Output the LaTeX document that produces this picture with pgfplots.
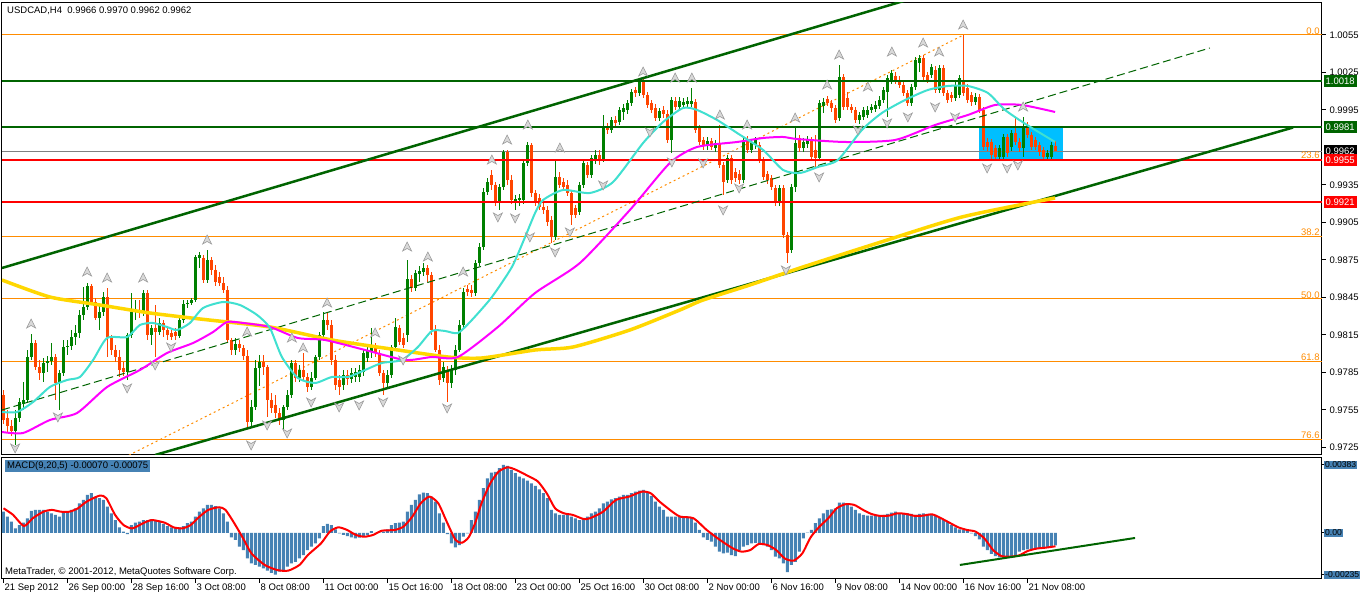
\documentclass[border=0pt]{standalone}
\usepackage{fontspec}
\setmainfont{Liberation Sans}
\usepackage{pgfplots}
\usepackage{pgfplotstable}
\pgfplotsset{compat=1.18}
\definecolor{bull}{RGB}{0,128,0}
\definecolor{bear}{RGB}{255,69,0}
\definecolor{chan}{RGB}{0,100,0}
\definecolor{fibo}{RGB}{255,140,0}
\definecolor{macdblue}{RGB}{70,130,180}
\definecolor{boxblue}{RGB}{0,191,255}
\definecolor{maC}{RGB}{64,224,208}
\definecolor{maM}{RGB}{255,0,255}
\definecolor{maY}{RGB}{255,215,0}
\definecolor{bidgray}{RGB}{128,128,128}
\newcommand{\fz}{\fontsize{9.5}{11}\selectfont}
\pgfdeclareplotmark{fup}{%
  \pgfpathmoveto{\pgfqpoint{0pt}{5pt}}%
  \pgfpathlineto{\pgfqpoint{4.5pt}{-4pt}}%
  \pgfpathlineto{\pgfqpoint{0pt}{-1.5pt}}%
  \pgfpathlineto{\pgfqpoint{-4.5pt}{-4pt}}%
  \pgfpathclose\pgfusepathqfillstroke}
\pgfdeclareplotmark{fdown}{%
  \pgfpathmoveto{\pgfqpoint{0pt}{-5pt}}%
  \pgfpathlineto{\pgfqpoint{4.5pt}{4pt}}%
  \pgfpathlineto{\pgfqpoint{0pt}{1.5pt}}%
  \pgfpathlineto{\pgfqpoint{-4.5pt}{4pt}}%
  \pgfpathclose\pgfusepathqfillstroke}

\pgfplotstableread{
i o h l c
0 0.97670 0.97710 0.97438 0.97470
1 0.97486 0.97550 0.97374 0.97422
2 0.97422 0.97470 0.97342 0.97382
3 0.97382 0.97550 0.97270 0.97486
4 0.97486 0.97646 0.97454 0.97614
5 0.97598 0.97774 0.97550 0.97630
6 0.97630 0.98030 0.97606 0.97974
7 0.97974 0.98158 0.97950 0.98086
8 0.98086 0.98110 0.97870 0.97894
9 0.97894 0.97950 0.97790 0.97846
10 0.97846 0.97966 0.97774 0.97926
11 0.97926 0.97982 0.97854 0.97942
12 0.97942 0.98086 0.97910 0.97974
13 0.97974 0.97998 0.97630 0.97766
14 0.97766 0.97870 0.97550 0.97846
15 0.97846 0.98110 0.97822 0.98054
16 0.98054 0.98110 0.97990 0.98062
17 0.98062 0.98190 0.98030 0.98134
18 0.98134 0.98230 0.98070 0.98166
19 0.98166 0.98350 0.98126 0.98310
20 0.98310 0.98534 0.98270 0.98374
21 0.98374 0.98566 0.98350 0.98542
22 0.98542 0.98558 0.98390 0.98414
23 0.98414 0.98446 0.98270 0.98286
24 0.98286 0.98390 0.98190 0.98334
25 0.98334 0.98494 0.98302 0.98454
26 0.98454 0.98526 0.97974 0.98134
27 0.98134 0.98150 0.97990 0.98030
28 0.98030 0.98070 0.97934 0.97974
29 0.97974 0.98030 0.97814 0.97870
30 0.97886 0.97934 0.97822 0.97854
31 0.97854 0.98166 0.97790 0.98150
32 0.98150 0.98486 0.98126 0.98334
33 0.98334 0.98430 0.98270 0.98350
34 0.98350 0.98430 0.98286 0.98326
35 0.98326 0.98510 0.98302 0.98486
36 0.98486 0.98510 0.98110 0.98150
37 0.98150 0.98230 0.98070 0.98206
38 0.98206 0.98390 0.97974 0.98174
39 0.98174 0.98286 0.98150 0.98246
40 0.98246 0.98270 0.98134 0.98190
41 0.98190 0.98214 0.98110 0.98150
42 0.98166 0.98190 0.98110 0.98134
43 0.98174 0.98206 0.98110 0.98142
44 0.98142 0.98286 0.98126 0.98270
45 0.98270 0.98430 0.98246 0.98398
46 0.98398 0.98430 0.98366 0.98406
47 0.98406 0.98446 0.98390 0.98430
48 0.98430 0.98790 0.98414 0.98774
49 0.98766 0.98814 0.98686 0.98790
50 0.98766 0.98790 0.98566 0.98590
51 0.98590 0.98830 0.98566 0.98750
52 0.98750 0.98774 0.98630 0.98670
53 0.98670 0.98710 0.98542 0.98574
54 0.98614 0.98654 0.98542 0.98566
55 0.98566 0.98614 0.98486 0.98510
56 0.98510 0.98542 0.98086 0.98110
57 0.98110 0.98126 0.97990 0.98030
58 0.98030 0.98126 0.97990 0.98078
59 0.98078 0.98110 0.98014 0.98046
60 0.98046 0.98070 0.97950 0.97982
61 0.97982 0.98030 0.97406 0.97454
62 0.97454 0.97630 0.97406 0.97574
63 0.97574 0.97950 0.97550 0.97886
64 0.97886 0.97990 0.97742 0.97934
65 0.97934 0.97990 0.97830 0.97894
66 0.97894 0.97910 0.97494 0.97630
67 0.97630 0.97686 0.97526 0.97566
68 0.97590 0.97670 0.97486 0.97526
69 0.97526 0.97566 0.97430 0.97470
70 0.97470 0.97590 0.97390 0.97574
71 0.97574 0.97710 0.97550 0.97670
72 0.97670 0.97950 0.97646 0.97926
73 0.97926 0.97950 0.97774 0.97806
74 0.97806 0.97910 0.97774 0.97870
75 0.97870 0.98006 0.97790 0.97814
76 0.97814 0.97846 0.97694 0.97734
77 0.97734 0.97854 0.97710 0.97806
78 0.97806 0.97990 0.97790 0.97974
79 0.97974 0.98174 0.97950 0.98150
80 0.98150 0.98334 0.98126 0.98270
81 0.98270 0.98334 0.98190 0.98230
82 0.98230 0.98270 0.97910 0.97950
83 0.97950 0.97990 0.97710 0.97750
84 0.97790 0.97830 0.97670 0.97734
85 0.97750 0.97870 0.97710 0.97830
86 0.97830 0.97870 0.97750 0.97798
87 0.97798 0.97886 0.97766 0.97846
88 0.97814 0.97886 0.97774 0.97854
89 0.97814 0.97910 0.97774 0.97870
90 0.97854 0.98030 0.97822 0.98006
91 0.97966 0.98070 0.97934 0.98030
92 0.98014 0.98206 0.97966 0.98054
93 0.98054 0.98086 0.97974 0.98006
94 0.98006 0.98030 0.97822 0.97846
95 0.97846 0.97870 0.97670 0.97766
96 0.97766 0.97870 0.97734 0.97830
97 0.97830 0.98070 0.97806 0.98054
98 0.98054 0.98286 0.98030 0.98214
99 0.98206 0.98230 0.98070 0.98094
100 0.98126 0.98166 0.98046 0.98070
101 0.98150 0.98750 0.98094 0.98598
102 0.98598 0.98630 0.98494 0.98526
103 0.98526 0.98670 0.98502 0.98646
104 0.98638 0.98702 0.98574 0.98662
105 0.98654 0.98726 0.98622 0.98686
106 0.98686 0.98710 0.98574 0.98630
107 0.98630 0.98654 0.98150 0.98190
108 0.98190 0.98230 0.98014 0.98030
109 0.98030 0.98070 0.97750 0.97790
110 0.97806 0.97934 0.97774 0.97894
111 0.97870 0.97902 0.97614 0.97766
112 0.97766 0.97910 0.97726 0.97870
113 0.97870 0.98070 0.97830 0.98030
114 0.98030 0.98270 0.98014 0.98230
115 0.98230 0.98526 0.98206 0.98494
116 0.98518 0.98550 0.98462 0.98494
117 0.98510 0.98550 0.98454 0.98486
118 0.98486 0.98750 0.98462 0.98726
119 0.98726 0.98886 0.98702 0.98854
120 0.98854 0.99326 0.98830 0.99294
121 0.99294 0.99406 0.99270 0.99374
122 0.99430 0.99470 0.99310 0.99350
123 0.99350 0.99374 0.99182 0.99214
124 0.99214 0.99358 0.99150 0.99334
125 0.99334 0.99630 0.99310 0.99614
126 0.99614 0.99630 0.99350 0.99390
127 0.99390 0.99430 0.99198 0.99230
128 0.99222 0.99270 0.99150 0.99238
129 0.99230 0.99278 0.99182 0.99246
130 0.99230 0.99550 0.99198 0.99526
131 0.99526 0.99694 0.99502 0.99670
132 0.99670 0.99686 0.99254 0.99286
133 0.99286 0.99310 0.99182 0.99206
134 0.99246 0.99278 0.99150 0.99174
135 0.99174 0.99206 0.99118 0.99150
136 0.99150 0.99182 0.99022 0.99054
137 0.99070 0.99102 0.98886 0.98934
138 0.98934 0.99550 0.98910 0.99414
139 0.99414 0.99454 0.99326 0.99350
140 0.99374 0.99406 0.99310 0.99334
141 0.99350 0.99390 0.99262 0.99286
142 0.99286 0.99310 0.99030 0.99110
143 0.99166 0.99190 0.99086 0.99110
144 0.99134 0.99374 0.99110 0.99350
145 0.99350 0.99550 0.99326 0.99526
146 0.99510 0.99534 0.99406 0.99430
147 0.99430 0.99590 0.99406 0.99566
148 0.99550 0.99630 0.99518 0.99590
149 0.99590 0.99630 0.99510 0.99550
150 0.99550 0.99910 0.99534 0.99806
151 0.99814 0.99846 0.99758 0.99790
152 0.99790 0.99894 0.99766 0.99870
153 0.99870 0.99902 0.99814 0.99846
154 0.99854 0.99974 0.99830 0.99950
155 0.99934 0.99998 0.99870 0.99966
156 0.99950 1.00030 0.99918 1.00006
157 1.00006 1.00118 0.99982 1.00094
158 1.00110 1.00134 1.00054 1.00086
159 1.00086 1.00198 1.00062 1.00174
160 1.00174 1.00206 1.00046 1.00070
161 1.00070 1.00094 0.99966 0.99990
162 1.00006 1.00030 0.99926 0.99950
163 0.99966 0.99998 0.99862 0.99886
164 0.99886 0.99966 0.99862 0.99942
165 0.99950 0.99982 0.99886 0.99918
166 0.99918 0.99950 0.99686 0.99710
167 0.99710 1.00054 0.99606 1.00030
168 1.00022 1.00054 0.99950 0.99974
169 0.99974 1.00054 0.99942 1.00022
170 0.99990 1.00046 0.99966 1.00014
171 0.99998 1.00054 0.99974 1.00022
172 0.99998 1.00126 0.99974 1.00022
173 1.00014 1.00038 0.99766 0.99790
174 0.99806 0.99830 0.99670 0.99694
175 0.99710 0.99734 0.99630 0.99662
176 0.99662 0.99734 0.99630 0.99702
177 0.99702 0.99726 0.99630 0.99654
178 0.99646 0.99710 0.99614 0.99686
179 0.99686 0.99830 0.99486 0.99510
180 0.99510 0.99534 0.99270 0.99374
181 0.99390 0.99590 0.99366 0.99566
182 0.99566 0.99590 0.99358 0.99390
183 0.99454 0.99486 0.99374 0.99406
184 0.99438 0.99470 0.99358 0.99390
185 0.99390 0.99734 0.99366 0.99710
186 0.99718 0.99742 0.99606 0.99630
187 0.99630 0.99710 0.99606 0.99686
188 0.99670 0.99734 0.99638 0.99710
189 0.99670 0.99694 0.99526 0.99550
190 0.99550 0.99574 0.99390 0.99414
191 0.99438 0.99462 0.99358 0.99390
192 0.99406 0.99430 0.99310 0.99334
193 0.99326 0.99350 0.99182 0.99206
194 0.99206 0.99350 0.99182 0.99326
195 0.99326 0.99350 0.98926 0.98950
196 0.98950 0.98974 0.98726 0.98806
197 0.98830 0.99358 0.98806 0.99334
198 0.99334 0.99814 0.99294 0.99686
199 0.99726 0.99750 0.99614 0.99646
200 0.99646 0.99726 0.99614 0.99694
201 0.99678 0.99742 0.99646 0.99710
202 0.99710 0.99734 0.99550 0.99574
203 0.99630 0.99750 0.99494 0.99566
204 0.99566 1.00030 0.99542 1.00006
205 0.99982 1.00046 0.99926 1.00014
206 1.00038 1.00062 0.99982 1.00006
207 1.00006 1.00030 0.99934 0.99966
208 0.99966 0.99990 0.99846 0.99870
209 0.99886 1.00310 0.99862 1.00214
210 1.00214 1.00238 0.99950 0.99974
211 1.00046 1.00094 0.99950 0.99974
212 0.99974 0.99998 0.99926 0.99950
213 0.99950 0.99974 0.99846 0.99870
214 0.99870 0.99934 0.99838 0.99910
215 0.99894 0.99974 0.99870 0.99950
216 0.99910 0.99982 0.99886 0.99950
217 0.99950 0.99998 0.99926 0.99974
218 0.99958 1.00022 0.99934 0.99990
219 0.99982 1.00062 0.99958 1.00030
220 1.00030 1.00134 1.00006 1.00110
221 1.00094 1.00230 0.99894 1.00206
222 1.00190 1.00270 1.00158 1.00246
223 1.00222 1.00254 1.00158 1.00182
224 1.00190 1.00222 1.00126 1.00150
225 1.00150 1.00174 1.00062 1.00086
226 1.00086 1.00110 0.99982 1.00006
227 1.00006 1.00158 0.99982 1.00134
228 1.00134 1.00374 1.00110 1.00350
229 1.00326 1.00390 1.00254 1.00366
230 1.00366 1.00390 1.00190 1.00214
231 1.00230 1.00254 1.00166 1.00190
232 1.00230 1.00318 1.00206 1.00294
233 1.00270 1.00302 1.00086 1.00110
234 1.00110 1.00310 1.00086 1.00286
235 1.00286 1.00310 1.00062 1.00086
236 1.00086 1.00110 1.00006 1.00030
237 1.00070 1.00094 1.00014 1.00046
238 1.00046 1.00174 1.00022 1.00150
239 1.00070 1.00230 1.00046 1.00206
240 1.00190 1.00550 1.00062 1.00086
241 1.00126 1.00158 1.00006 1.00030
242 1.00070 1.00094 0.99982 1.00014
243 1.00014 1.00086 0.99990 1.00054
244 1.00054 1.00078 0.99926 0.99950
245 0.99950 0.99974 0.99630 0.99654
246 0.99694 0.99726 0.99622 0.99654
247 0.99694 0.99718 0.99558 0.99590
248 0.99646 0.99670 0.99550 0.99574
249 0.99574 0.99670 0.99550 0.99646
250 0.99574 0.99758 0.99542 0.99734
251 0.99734 0.99758 0.99574 0.99606
252 0.99654 0.99790 0.99622 0.99766
253 0.99766 0.99886 0.99670 0.99694
254 0.99694 0.99726 0.99614 0.99646
255 0.99646 0.99894 0.99574 0.99814
256 0.99830 0.99854 0.99726 0.99750
257 0.99750 0.99774 0.99630 0.99654
258 0.99710 0.99734 0.99630 0.99654
259 0.99670 0.99694 0.99582 0.99614
260 0.99630 0.99654 0.99550 0.99574
261 0.99574 0.99630 0.99550 0.99606
262 0.99574 0.99694 0.99550 0.99670
263 0.99660 0.99700 0.99620 0.99620
}\candles

\pgfplotstableread{
i v
0 0.00120
1 0.00092
2 0.00064
3 0.00026
4 0.00045
5 0.00058
6 0.00083
7 0.00124
8 0.00130
9 0.00130
10 0.00130
11 0.00120
12 0.00111
13 0.00102
14 0.00092
15 0.00120
16 0.00120
17 0.00130
18 0.00139
19 0.00167
20 0.00186
21 0.00214
22 0.00224
23 0.00205
24 0.00196
25 0.00186
26 0.00149
27 0.00111
28 0.00073
29 0.00032
30 0.00008
31 -0.00006
32 0.00045
33 0.00058
34 0.00064
35 0.00073
36 0.00073
37 0.00077
38 0.00070
39 0.00064
40 0.00051
41 0.00039
42 0.00032
43 0.00032
44 0.00032
45 0.00039
46 0.00055
47 0.00064
48 0.00092
49 0.00120
50 0.00139
51 0.00158
52 0.00158
53 0.00152
54 0.00139
55 0.00111
56 0.00064
57 -0.00024
58 -0.00039
59 -0.00077
60 -0.00096
61 -0.00143
62 -0.00171
63 -0.00180
64 -0.00190
65 -0.00199
66 -0.00212
67 -0.00224
68 -0.00235
69 -0.00218
70 -0.00209
71 -0.00190
72 -0.00171
73 -0.00162
74 -0.00143
75 -0.00124
76 -0.00096
77 -0.00077
78 -0.00058
79 -0.00030
80 0.00039
81 0.00051
82 0.00045
83 0.00021
84 -0.00002
85 -0.00011
86 -0.00017
87 -0.00024
88 -0.00030
89 -0.00026
90 -0.00021
91 -0.00011
92 0.00011
93 -0.00002
94 0.00002
95 0.00008
96 0.00021
97 0.00045
98 0.00055
99 0.00058
100 0.00064
101 0.00120
102 0.00158
103 0.00186
104 0.00218
105 0.00227
106 0.00224
107 0.00205
108 0.00177
109 0.00111
110 0.00058
111 -0.00006
112 -0.00058
113 -0.00081
114 -0.00068
115 -0.00021
116 -0.00002
117 0.00073
118 0.00120
119 0.00186
120 0.00252
121 0.00308
122 0.00340
123 0.00344
124 0.00365
125 0.00383
126 0.00378
127 0.00355
128 0.00337
129 0.00318
130 0.00308
131 0.00295
132 0.00280
133 0.00265
134 0.00246
135 0.00224
136 0.00196
137 0.00130
138 0.00111
139 0.00102
140 0.00102
141 0.00102
142 0.00092
143 0.00083
144 0.00073
145 0.00083
146 0.00092
147 0.00111
148 0.00120
149 0.00139
150 0.00167
151 0.00177
152 0.00190
153 0.00196
154 0.00205
155 0.00214
156 0.00214
157 0.00224
158 0.00233
159 0.00239
160 0.00243
161 0.00224
162 0.00209
163 0.00177
164 0.00149
165 0.00130
166 0.00092
167 0.00092
168 0.00092
169 0.00092
170 0.00092
171 0.00092
172 0.00088
173 0.00058
174 0.00017
175 -0.00024
176 -0.00039
177 -0.00049
178 -0.00077
179 -0.00105
180 -0.00115
181 -0.00111
182 -0.00124
183 -0.00130
184 -0.00096
185 -0.00077
186 -0.00068
187 -0.00058
188 -0.00055
189 -0.00055
190 -0.00068
191 -0.00077
192 -0.00096
193 -0.00133
194 -0.00143
195 -0.00171
196 -0.00220
197 -0.00180
198 -0.00162
199 -0.00105
200 -0.00030
201 0.00002
202 0.00017
203 0.00055
204 0.00083
205 0.00111
206 0.00130
207 0.00133
208 0.00139
209 0.00171
210 0.00171
211 0.00158
212 0.00149
213 0.00130
214 0.00111
215 0.00102
216 0.00098
217 0.00098
218 0.00096
219 0.00098
220 0.00102
221 0.00107
222 0.00115
223 0.00120
224 0.00111
225 0.00107
226 0.00111
227 0.00107
228 0.00102
229 0.00107
230 0.00111
231 0.00107
232 0.00102
233 0.00102
234 0.00088
235 0.00073
236 0.00064
237 0.00045
238 0.00032
239 0.00021
240 0.00017
241 0.00011
242 -0.00002
243 -0.00017
244 -0.00036
245 -0.00077
246 -0.00096
247 -0.00118
248 -0.00130
249 -0.00137
250 -0.00143
251 -0.00137
252 -0.00133
253 -0.00130
254 -0.00105
255 -0.00096
256 -0.00092
257 -0.00092
258 -0.00092
259 -0.00086
260 -0.00086
261 -0.00081
262 -0.00077
263 -0.00070
}\macd

\begin{document}
\begin{tikzpicture}
\fill[white] (0,0) rectangle (1360pt,596pt);
\path[use as bounding box] (0,0) rectangle (1360pt,596pt);

\begin{axis}[
  name=main, at={(2pt,141pt)}, anchor=south west,
  scale only axis, width=1320pt, height=452pt,
  xmin=-0.375, xmax=329.625, ymin=0.97190, ymax=1.00806,
  axis line style={line width=1pt},
  xtick=\empty,
  ytick={0.9725,0.9755,0.9785,0.9815,0.9845,0.9875,0.9905,0.9935,0.9995,1.0025,1.0055},
  ytick pos=right, yticklabel pos=right,
  tick align=outside, major tick length=4pt,
  tick style={black, line width=1pt},
  /pgf/number format/assume math mode=true,
  yticklabel style={font=\fz, /pgf/number format/fixed, /pgf/number format/fixed zerofill, /pgf/number format/precision=4},
  clip mode=individual,
]
% analysis rectangle
\addplot[fill=boxblue, draw=none] coordinates {(243.9,0.9955) (264.9,0.9955) (264.9,0.9981) (243.9,0.9981)} -- cycle;
% Fibonacci levels
\addplot[fibo, line width=1pt] coordinates {(-0.375,1.0055) (329.625,1.0055)};
\addplot[fibo, line width=1pt] coordinates {(-0.375,0.99553) (329.625,0.99553)};
\addplot[fibo, line width=1pt] coordinates {(-0.375,0.98936) (329.625,0.98936)};
\addplot[fibo, line width=1pt] coordinates {(-0.375,0.98438) (329.625,0.98438)};
\addplot[fibo, line width=1pt] coordinates {(-0.375,0.97940) (329.625,0.97940)};
\addplot[fibo, line width=1pt] coordinates {(-0.375,0.97314) (329.625,0.97314)};
\addplot[fibo, line width=1pt, dash pattern=on 2pt off 3pt] coordinates {(28,0.97134) (240,1.0055)};
% bid line
\addplot[bidgray, line width=1pt] coordinates {(-0.375,0.9962) (329.625,0.9962)};
% candles: wicks and bodies
\addplot[bull, line width=1pt, quiver={u=0, v=\thisrow{h}-\thisrow{l}}, restrict expr to domain={\thisrow{c}-\thisrow{o}}{0:1}] table[x=i, y=l] {\candles};
\addplot[bear, line width=1pt, quiver={u=0, v=\thisrow{h}-\thisrow{l}}, restrict expr to domain={\thisrow{c}-\thisrow{o}}{-1:-0.000001}] table[x=i, y=l] {\candles};
\addplot[bull, line width=3pt, quiver={u=0, v=\thisrow{c}-\thisrow{o}}, restrict expr to domain={\thisrow{c}-\thisrow{o}}{0:1}] table[x=i, y=o] {\candles};
\addplot[bear, line width=3pt, quiver={u=0, v=\thisrow{c}-\thisrow{o}}, restrict expr to domain={\thisrow{c}-\thisrow{o}}{-1:-0.000001}] table[x=i, y=o] {\candles};
% horizontal levels
\addplot[chan, line width=2pt] coordinates {(-0.375,1.0018) (329.625,1.0018)};
\addplot[chan, line width=2pt] coordinates {(-0.375,0.9981) (329.625,0.9981)};
\addplot[red, line width=2pt] coordinates {(-0.375,0.9955) (329.625,0.9955)};
\addplot[red, line width=2pt] coordinates {(-0.375,0.9921) (329.625,0.9921)};
% channel
\addplot[chan, line width=2.5pt] coordinates {(-0.375,0.98686) (230,1.00869)};
\addplot[chan, line width=2.5pt] coordinates {(37.9,0.9719) (322.4,0.9981)};
\addplot[chan, line width=1pt, dash pattern=on 8pt off 4pt] coordinates {(-0.375,0.9755) (301.6,1.00446)};
% moving averages
\addplot[maY, line width=3.5pt, smooth, tension=0.4] coordinates {
(-0.375,0.98590) (11.6,0.98454) (24.1,0.98390) (36.6,0.98326) (49.1,0.98278) (66.6,0.98214)
(82.1,0.98110) (98.6,0.98030) (111.1,0.97974) (119.6,0.97966) (132.9,0.98030) (142.4,0.98054)
(156.6,0.98190) (169.1,0.98350) (174.9,0.98430) (186.6,0.98550) (199.1,0.98686) (218.6,0.98886)
(239.6,0.99094) (262.9,0.99246)};
\addplot[maM, line width=2pt, smooth, tension=0.4] coordinates {
(-0.375,0.97374) (4.9,0.97366) (11.6,0.97470) (18.4,0.97526) (25.9,0.97734) (34.1,0.97870)
(40.9,0.98006) (47.4,0.98086) (52.4,0.98174) (55.9,0.98254) (59.9,0.98246) (66.6,0.98214)
(73.6,0.98126) (80.4,0.98110) (90.4,0.98030) (100.4,0.97950) (107.1,0.97974) (113.6,0.97974)
(123.6,0.98214) (132.9,0.98486) (144.1,0.98726) (156.6,0.99150) (166.6,0.99526) (173.4,0.99654)
(183.4,0.99694) (189.9,0.99726) (194.9,0.99734) (198.4,0.99718) (210.4,0.99694) (222.9,0.99710)
(232.9,0.99830) (241.1,0.99910) (247.9,0.99990) (254.6,0.99990) (262.9,0.99934)};
\addplot[maC, line width=2pt, smooth, tension=0.4] coordinates {
(-0.375,0.97534) (3.4,0.97534) (7.4,0.97614) (11.6,0.97734) (15.9,0.97790) (19.1,0.97814)
(22.4,0.97950) (25.9,0.98126) (30.9,0.98134) (34.1,0.98230) (37.4,0.98246) (40.9,0.98214)
(43.4,0.98190) (46.6,0.98246) (49.9,0.98366) (54.9,0.98414) (59.1,0.98390) (63.4,0.98310)
(66.6,0.98206) (69.6,0.97974) (73.6,0.97806) (77.9,0.97766) (82.1,0.97814) (86.1,0.97814)
(90.4,0.97870) (94.6,0.97926) (99.6,0.97950) (103.6,0.98054) (107.1,0.98182) (110.4,0.98182)
(113.6,0.98166) (117.1,0.98270) (122.1,0.98454) (127.1,0.98694) (130.4,0.98934) (132.9,0.99126)
(134.9,0.99230) (139.9,0.99310) (146.6,0.99286) (152.4,0.99374) (159.9,0.99686) (164.9,0.99854)
(169.9,0.99966) (173.4,0.99950) (178.4,0.99870) (183.4,0.99766) (189.9,0.99630) (194.9,0.99470)
(199.1,0.99446) (203.6,0.99494) (208.6,0.99550) (214.6,0.99790) (219.6,0.99926) (225.4,1.00030)
(231.1,1.00110) (236.1,1.00142) (241.1,1.00142) (246.1,1.00086) (250.4,0.99950) (255.9,0.99830)
(262.9,0.99694)};
% fractals
\addplot[only marks, mark=fup, mark options={fill=gray!30, draw=gray!80, line width=0.6pt}] coordinates {
(6.9,0.98238) (20.9,0.98654) (25.9,0.98606) (34.9,0.98606) (50.9,0.98910) (60.9,0.98174)
(72.1,0.98126) (74.9,0.98046) (80.9,0.98406) (92.9,0.98166) (100.9,0.98854) (106.1,0.98774)
(114.9,0.98654) (122.1,0.99550) (125.9,0.99710) (131.1,0.99830) (139.1,0.99646) (159.9,1.00254)
(167.9,1.00206) (172.1,1.00206) (179.1,0.99910) (185.9,0.99830) (197.9,0.99886) (205.9,1.00150)
(208.9,1.00390) (216.1,1.00134) (222.1,1.00414) (229.9,1.00486) (233.9,1.00414) (239.9,1.00630)
(254.9,0.99974)};
\addplot[only marks, mark=fdown, mark options={fill=gray!30, draw=gray!80, line width=0.6pt}] coordinates {
(2.9,0.97246) (13.6,0.97494) (30.9,0.97726) (37.9,0.97910) (41.9,0.98054) (61.9,0.97270)
(65.9,0.97430) (70.9,0.97366) (76.9,0.97614) (83.9,0.97574) (88.9,0.97590) (94.9,0.97614)
(99.9,0.97950) (110.9,0.97566) (123.6,0.99094) (127.9,0.99086) (131.6,0.98934) (137.9,0.98814)
(141.6,0.98974) (149.9,0.99350) (161.6,0.99774) (167.1,0.99534) (174.9,0.99526) (179.9,0.99150)
(183.9,0.99326) (195.6,0.98670) (203.9,0.99414) (213.6,0.99790) (220.9,0.99846) (226.1,0.99894)
(232.9,0.99974) (237.9,0.99894) (245.9,0.99486) (250.9,0.99486) (253.6,0.99510)};
% fibo labels
\node[anchor=south east, text=fibo, font=\fz, inner sep=0.5pt] at (axis cs:329.2,1.0055) {0.0};
\node[anchor=south east, text=fibo, font=\fz, inner sep=0.5pt] at (axis cs:329.2,0.99553) {23.6};
\node[anchor=south east, text=fibo, font=\fz, inner sep=0.5pt] at (axis cs:329.2,0.98936) {38.2};
\node[anchor=south east, text=fibo, font=\fz, inner sep=0.5pt] at (axis cs:329.2,0.98438) {50.0};
\node[anchor=south east, text=fibo, font=\fz, inner sep=0.5pt] at (axis cs:329.2,0.97940) {61.8};
\node[anchor=south east, text=fibo, font=\fz, inner sep=0.5pt] at (axis cs:329.2,0.97314) {76.6};
\coordinate (pA) at (axis cs:329.625,1.0018);
\coordinate (pB) at (axis cs:329.625,0.9981);
\coordinate (pC) at (axis cs:329.625,0.9962);
\coordinate (pD) at (axis cs:329.625,0.9955);
\coordinate (pE) at (axis cs:329.625,0.9921);
\end{axis}

\tikzset{pbox/.style={anchor=west, xshift=1.5pt, font=\fz, text=white, inner xsep=2pt, inner ysep=0pt, minimum height=12pt, text height=7pt, text depth=0pt}}
\node[pbox, fill=chan] at (pA) {1.0018};
\node[pbox, fill=chan] at (pB) {0.9981};
\node[pbox, fill=black] at (pC) {0.9962};
\node[pbox, fill=red] at (pD) {0.9955};
\node[pbox, fill=red] at (pE) {0.9921};

\node[anchor=base west, font=\fz, inner sep=0pt] at (7pt,582pt) {USDCAD,H4\ \ 0.9966 0.9970 0.9962 0.9962};

\begin{axis}[
  name=macdax, at={(2pt,17pt)}, anchor=south west,
  scale only axis, width=1320pt, height=121.5pt,
  xmin=-0.375, xmax=329.625, ymin=-0.002591, ymax=0.004252,
  axis line style={line width=1pt},
  xtick={0,16,32,48,64,80,96,112,128,144,160,176,192,208,224,240,256},
  xticklabels={21 Sep 2012, 26 Sep 00:00, 28 Sep 16:00, 3 Oct 08:00, 8 Oct 08:00, 11 Oct 00:00, 15 Oct 16:00, 18 Oct 08:00, 23 Oct 00:00, 25 Oct 16:00, 30 Oct 08:00, 2 Nov 00:00, 6 Nov 16:00, 9 Nov 08:00, 14 Nov 00:00, 16 Nov 16:00, 21 Nov 08:00},
  xtick pos=bottom,
  ytick={-0.00235,0,0.00383},
  yticklabels={-0.00235,0.00,0.00383},
  ytick pos=right, yticklabel pos=right,
  scaled y ticks=false,
  tick align=outside, major tick length=4pt,
  tick style={black, line width=1pt},
  xticklabel style={anchor=north west, font=\fz, inner xsep=1pt, inner ysep=1pt},
  yticklabel style={font=\fontsize{8.6}{10}\selectfont, fill=macdblue, inner xsep=1pt, inner ysep=1pt, xshift=-2pt},
  clip mode=individual,
]
\addplot[ybar, bar width=3pt, bar shift=0pt, fill=macdblue, draw=none] table[x=i, y=v] {\macd};
\addplot[red, line width=2pt, smooth, tension=0.4] coordinates {
(0,0.00139) (2.4,0.00102) (5.1,0.00039) (7.3,0.00083) (10,0.00120) (12.1,0.00130) (14.3,0.00120)
(16.5,0.00120) (18.6,0.00139) (20.8,0.00177) (24.1,0.00211) (25.7,0.00196) (27.9,0.00102) (30,0.00045)
(32.2,0.00026) (34.9,0.00055) (37.1,0.00073) (40.3,0.00058) (42.5,0.00032) (44.7,0.00026) (46.8,0.00045)
(49,0.00092) (51.2,0.00130) (53.9,0.00145) (55.5,0.00130) (57.7,0.00055) (59.9,-0.00030) (62,-0.00115)
(65.3,-0.00180) (68.5,-0.00209) (71.2,-0.00212) (74,-0.00180) (76.1,-0.00124) (79.4,-0.00058)
(81.6,0.00008) (83.7,0.00032) (85.9,0.00017) (88.1,-0.00011) (90.2,-0.00021) (92.4,-0.00011)
(94.6,0.00013) (97.8,0.00017) (100,0.00036) (102.2,0.00092) (104.3,0.00167) (106.5,0.00205)
(108.7,0.00167) (110.8,0.00064) (113,-0.00039) (114.6,-0.00055) (116.3,-0.00024) (117.9,0.00055)
(119.5,0.00167) (121.7,0.00280) (123.8,0.00346) (126,0.00370) (128.2,0.00355) (131.4,0.00318)
(133.6,0.00290) (135.8,0.00224) (137.9,0.00139) (140.1,0.00111) (142.3,0.00102) (145,0.00079)
(146.6,0.00083) (149.9,0.00120) (153.1,0.00186) (156.4,0.00205) (159.6,0.00233) (161.8,0.00224)
(164,0.00177) (167.2,0.00120) (169.2,0.00092) (172.5,0.00083) (175.8,0.00017) (179.1,-0.00039)
(182.3,-0.00086) (184.5,-0.00105) (186.7,-0.00096) (188.8,-0.00062) (191,-0.00068) (193.2,-0.00096)
(195.3,-0.00143) (197.5,-0.00156) (199.7,-0.00115) (201.8,-0.00024) (204,0.00036) (206.2,0.00083)
(208.3,0.00139) (210.5,0.00162) (212.7,0.00158) (214.9,0.00130) (217,0.00107) (219.2,0.00096)
(221.4,0.00098) (223.5,0.00111) (225.7,0.00107) (227.9,0.00096) (230,0.00098) (232.2,0.00105)
(234.4,0.00083) (236.5,0.00058) (238.7,0.00032) (240.9,0.00017) (243,0.00008) (245.2,-0.00030)
(247.4,-0.00096) (249.5,-0.00130) (251.7,-0.00133) (253.9,-0.00126) (256,-0.00102) (258.2,-0.00088)
(260.4,-0.00083) (263,-0.00075)};
\addplot[chan, line width=2pt] coordinates {(239.1,-0.00180) (282.9,-0.00028)};
\end{axis}

\node[anchor=north west, fill=macdblue, font=\fz, inner xsep=2pt, inner ysep=1.5pt] at (5pt,136pt) {MACD(9,20,5) -0.00070 -0.00075};
\node[anchor=base west, font=\fz, inner sep=0pt] at (5pt,21pt) {MetaTrader, © 2001-2012, MetaQuotes Software Corp.};
\end{tikzpicture}
\end{document}
